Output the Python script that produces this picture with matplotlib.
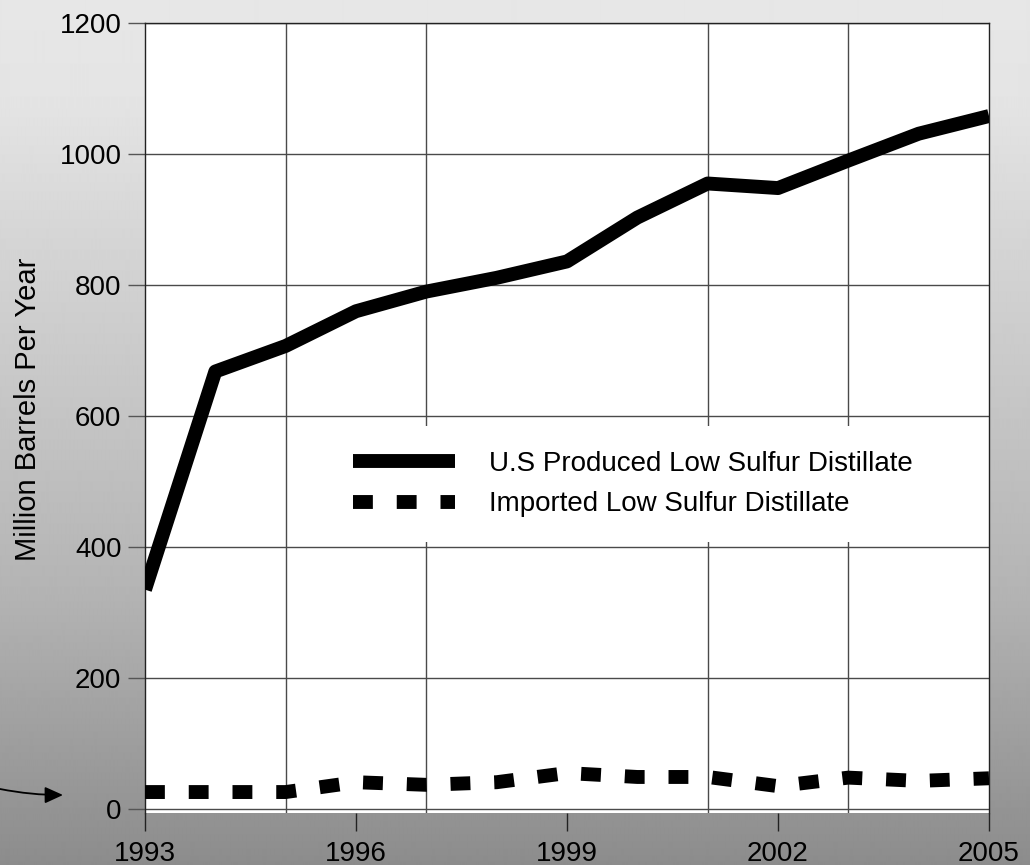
import numpy as np
import matplotlib
matplotlib.use("Agg")
import matplotlib.pyplot as plt

plt.rcParams['font.family'] = ['Liberation Sans', 'DejaVu Sans']

years = [1993, 1994, 1995, 1996, 1997, 1998, 1999, 2000, 2001, 2002, 2003, 2004, 2005]
us_produced = [335, 668, 707, 760, 790, 811, 836, 903, 955, 948, 990, 1031, 1058]
imported = [26, 26, 26, 41, 37, 41, 55, 49, 49, 35, 48, 43, 47]

label_years = [1993, 1996, 1999, 2002, 2005]
grid_years = [1993, 1995, 1997, 1999, 2001, 2003, 2005]
y_ticks = [0, 200, 400, 600, 800, 1000, 1200]

W, H, DPI = 1030, 865, 100
fig = plt.figure(figsize=(W / DPI, H / DPI), dpi=DPI)

# grey vertical gradient behind everything
bg = fig.add_axes([0, 0, 1, 1], zorder=-10)
rows = np.arange(H)
shade = np.interp(rows, [0, 100, 230, 590, 865], [231, 228, 214, 180, 140]) / 255.0
img = np.repeat(shade[:, None], 4, axis=1)
bg.imshow(img, cmap='gray', vmin=0, vmax=1, aspect='auto', extent=[0, 1, 0, 1],
          interpolation='bilinear')
bg.set_axis_off()

ax = fig.add_axes([145 / W, (H - 813) / H, 844 / W, 790 / H])
ax.set_facecolor('white')

fs = 20
ax.plot(years, us_produced, color='black', lw=10, solid_joinstyle='round',
        solid_capstyle='butt', label='U.S Produced Low Sulfur Distillate', zorder=3)
ax.plot(years, imported, color='black', lw=10, linestyle=(0, (1.43, 1.72)),
        dash_capstyle='butt', dash_joinstyle='miter',
        label='Imported Low Sulfur Distillate', zorder=3)

ax.set_xlim(1993, 2005)
ax.set_ylim(-6, 1200)

ax.set_xticks(label_years)
ax.set_xticklabels([str(y) for y in label_years])
ax.set_xticks(grid_years, minor=True)
ax.set_yticks(y_ticks)

ax.grid(True, which='minor', axis='x', color='#4a4a4a', lw=1.0, zorder=1)
ax.grid(True, which='major', axis='y', color='#4a4a4a', lw=1.0, zorder=1)
ax.set_axisbelow(True)

ax.tick_params(axis='x', which='major', direction='out', length=13, width=1.0,
               color='#222222', labelsize=fs, pad=7)
ax.tick_params(axis='x', which='minor', length=0)
ax.tick_params(axis='y', which='major', direction='out', length=12, width=1.0,
               color='#555555', labelsize=fs, pad=5)

ax.spines['bottom'].set_visible(False)
for side in ('left', 'top', 'right'):
    ax.spines[side].set_color('#222222')
    ax.spines[side].set_linewidth(1.0)

ax.set_ylabel('Million Barrels Per Year', fontsize=21)
ax.yaxis.set_label_coords(-0.122, 0.511)

leg = ax.legend(loc='center', bbox_to_anchor=((633 - 145) / 844, (813 - 484) / 790),
                fontsize=fs, frameon=True, fancybox=False, framealpha=1.0,
                facecolor='white', edgecolor='none', handlelength=3.67,
                handletextpad=1.22, labelspacing=0.53, borderpad=0.88,
                borderaxespad=0)
leg.set_zorder(5)

# pointer towards the imported series
ax.annotate('', xy=(63, H - 795), xycoords='figure pixels',
            xytext=(0, H - 789), textcoords='figure pixels',
            arrowprops=dict(arrowstyle='-|>,head_length=1.1,head_width=0.5',
                            color='black', lw=1.3,
                            connectionstyle='arc3,rad=0.05',
                            shrinkA=0, shrinkB=0),
            annotation_clip=False)

fig.savefig('out.png', dpi=DPI)
